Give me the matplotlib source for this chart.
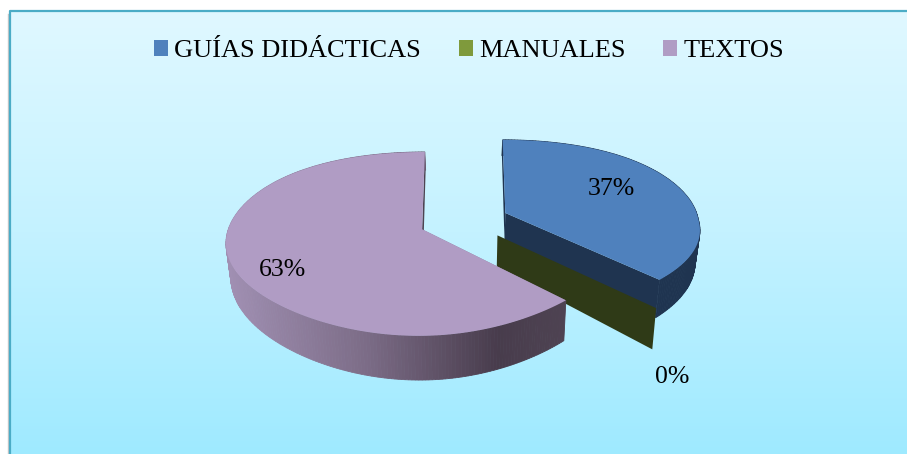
# -*- coding:utf-8 -*-
import numpy as np
import matplotlib
matplotlib.use("Agg")
import matplotlib.pyplot as plt
from matplotlib.patches import Polygon, Patch
from matplotlib.colors import LinearSegmentedColormap

categorias = ["GUÍAS DIDÁCTICAS", "MANUALES", "TEXTOS"]
valores = [37, 0, 63]
etiquetas = ["37%", "0%", "63%"]
colores_top = ["#4f81bd", "#2f3a17", "#b09cc4"]
colores_leyenda = ["#4f81bd", "#7f9a3c", "#b09cc4"]

plt.rcParams['font.family'] = ['Liberation Serif', 'DejaVu Serif']

# proyeccion del plano del pastel a pixeles
X0, Y0 = 464.0, 221.0
A, B = 193.0, 87.0
KX, KY = 0.07, 0.157
EXPLOSION = 0.235
# ajuste del borde en el cuadrante de abajo a la derecha, por porcion
CORTE = [0.05, 0.07, -0.03]


def proyecta(u, v, abajo=False):
    u = np.asarray(u, dtype=float)
    v = np.asarray(v, dtype=float)
    x = X0 + A * u / (1 + KX * v)
    y = Y0 - B * v / (1 + KY * v)
    if abajo:
        x = X0 + (x - X0) * 0.98
        y = y + 30 - 13 * v
    return x, y


def pts(x, y):
    return np.column_stack([x, y])


fig = plt.figure(figsize=(9.07, 4.54), dpi=100)
ax = fig.add_axes([0, 0, 1, 1])
ax.set_xlim(0, 907)
ax.set_ylim(454, 0)
ax.axis("off")

# fondo con degradado y marco
fondo = LinearSegmentedColormap.from_list("fondo", ["#e0f8ff", "#c4f2ff", "#9feaff"])
ax.imshow(np.linspace(0, 1, 256).reshape(-1, 1), extent=[10, 907, 454, 11],
          cmap=fondo, aspect="auto", zorder=0)
ax.set_xlim(0, 907)
ax.set_ylim(454, 0)
ax.plot([8, 8], [14, 454], color="#c8c8c8", lw=1.0, zorder=1)
ax.plot([10, 10, 907], [454, 11, 11], color="#4bacc6", lw=1.6, zorder=1)

# pared exterior del texto: de claro a oscuro
pared = LinearSegmentedColormap.from_list(
    "pared", [(0, "#a08fb2"), (0.4, "#7d6d88"), (0.8, "#483c4c"), (1, "#4e4352")])

inicio = 0.0
total = float(sum(valores))
z = 2
for i, val in enumerate(valores):
    barrido = val / total * 2 * np.pi
    fin = inicio + barrido
    medio = (inicio + fin) / 2
    cu = EXPLOSION * np.sin(medio)
    cv = EXPLOSION * np.cos(medio)
    ang = np.linspace(inicio, fin, max(2, int(barrido * 60)))
    u = cu + np.sin(ang) + CORTE[i] * np.clip(-np.cos(ang), 0, 1) * np.clip(np.sin(ang), 0, 1)
    # el borde cae un poco hacia los lados
    v = cv + np.cos(ang) - 0.07 * np.sin(ang) ** 4

    tx, ty = proyecta(u, v)
    bx, by = proyecta(u, v, abajo=True)
    cx, cy = proyecta(cu, cv)
    dx, dy = proyecta(cu, cv, abajo=True)

    if val == 0:
        # porcion nula: solo queda la pared plana
        ax.add_patch(Polygon([(cx, cy), (tx[0], ty[0]), (bx[0], by[0]), (dx, dy)],
                             fc=colores_top[i], ec="none", zorder=z))
        z += 1
        inicio = fin
        continue

    # paredes rectas
    oscuro = "#1f3450" if i == 0 else "#8b7a9c"
    ax.add_patch(Polygon([(cx, cy), (tx[0], ty[0]), (bx[0], by[0]), (dx, dy)],
                         fc=oscuro, ec="none", zorder=z))
    ax.add_patch(Polygon([(cx, cy), (tx[-1], ty[-1]), (bx[-1], by[-1]), (dx, dy)],
                         fc="#1f3450" if i == 0 else "#4e4352", ec="none", zorder=z))
    # pared curva
    for j in range(len(ang) - 1):
        if i == 0:
            c = "#1f3450"
        else:
            c = pared(np.clip((tx[j] - 228) / (567 - 228), 0, 1))
        ax.add_patch(Polygon([(tx[j], ty[j]), (tx[j + 1], ty[j + 1]),
                              (bx[j + 1], by[j + 1]), (bx[j], by[j])],
                             fc=c, ec=c, lw=0.6, zorder=z))
    # cara superior
    ax.add_patch(Polygon(np.vstack([[cx, cy], pts(tx, ty)]), fc=colores_top[i],
                         ec="none", zorder=z + 1))
    z += 2
    inicio = fin

# etiquetas
pos_etiquetas = [(611, 189), (672, 377), (283, 270)]
for e, (px, py) in zip(etiquetas, pos_etiquetas):
    ax.text(px, py, e, fontsize=18.5, color="black", ha="center", va="center", zorder=20)

# leyenda
handles = [Patch(fc=c, ec="none") for c in colores_leyenda]
ax.legend(handles, categorias, ncol=3, loc="center", bbox_to_anchor=(469 / 907, 1 - 51 / 454),
          frameon=False, fontsize=19, handlelength=0.53, handleheight=0.55,
          handletextpad=0.23, columnspacing=1.44, borderpad=0, labelspacing=0)

fig.savefig("out.png", dpi=100, facecolor="white")
